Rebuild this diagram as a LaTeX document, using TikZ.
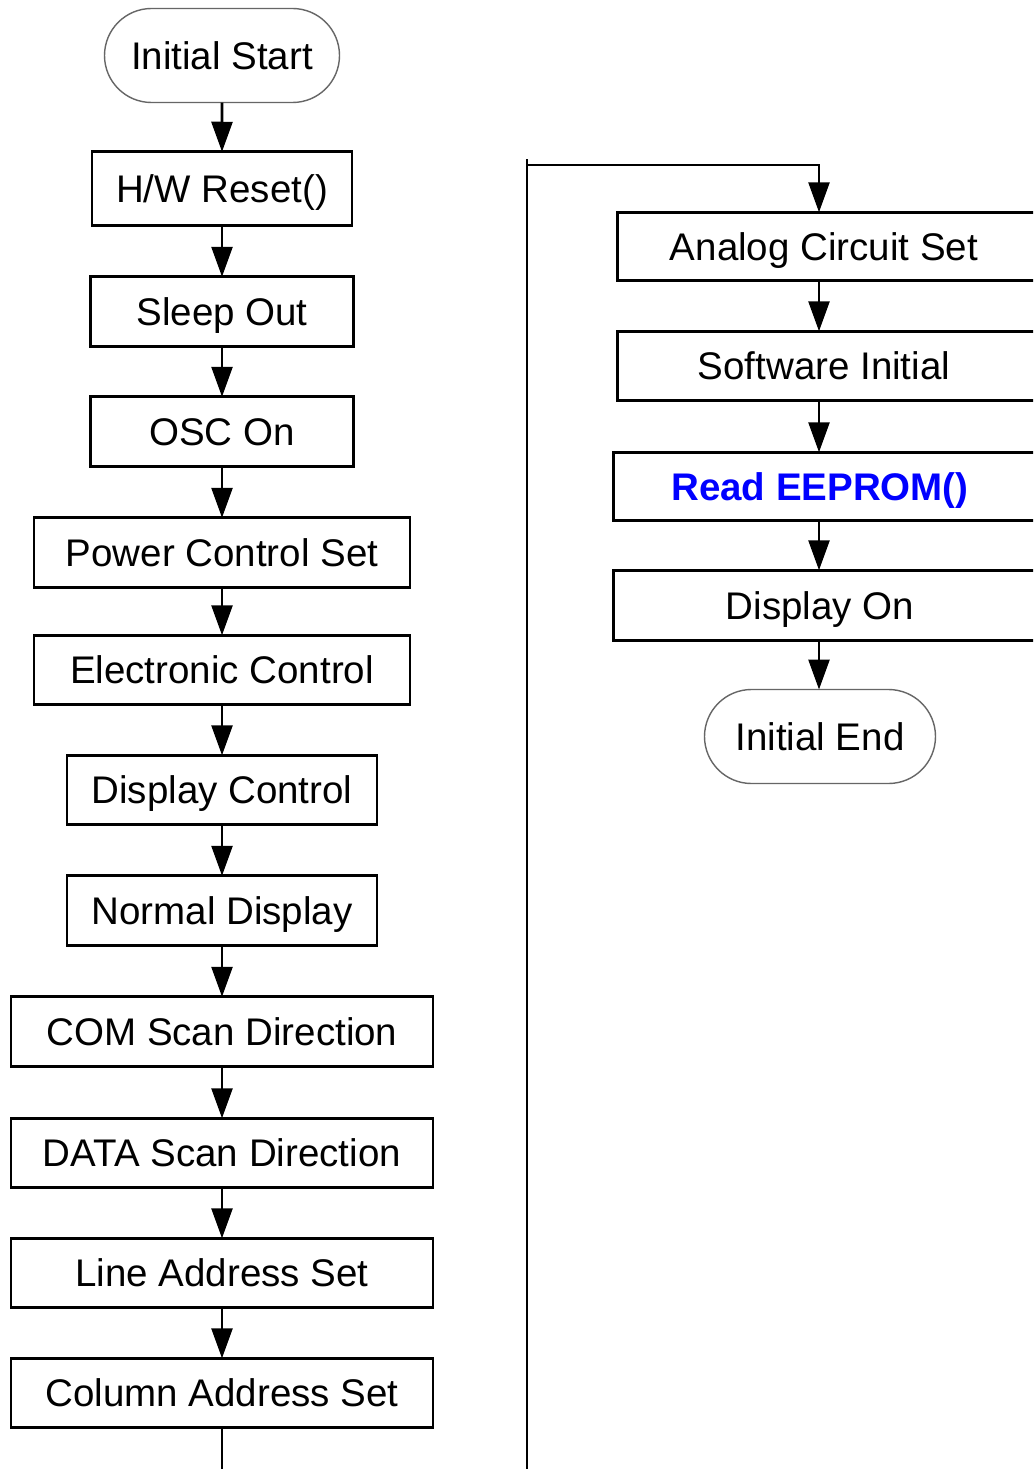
\documentclass[tikz,border=0pt]{standalone}
\usepackage{fontspec}
\setmainfont{Liberation Sans}
\usetikzlibrary{arrows.meta,shapes.misc}
\definecolor{eepblue}{RGB}{0,0,255}
\begin{document}
\begin{tikzpicture}[x=1pt,y=-1pt,
  every node/.style={font=\fontsize{38.5}{40}\selectfont, inner sep=0pt, outer sep=0pt,
    text height=27.6pt, text depth=0pt},
  procbox/.style={draw=black, line width=2.8pt, rectangle, minimum height=#1},
  procbox/.default=69.5,
  term/.style={draw=black!60, line width=1.4pt, rounded rectangle, minimum height=94, minimum width=235},
  arr/.style={draw=black, line width=2.6pt, -{Triangle[width=21pt,length=30pt]}},
  plainline/.style={draw=black, line width=2.6pt}]
\useasboundingbox (0,0) rectangle (1033,1469);
\clip (0,0) rectangle (1033,1469);
\fill[white] (0,0) rectangle (1033,1469);
% left column
\node[term] (start) at (222,55.5) {Initial Start};
\node[procbox=73.5, minimum width=260] (hw) at (222,188.5) {H/W Reset()};
\node[procbox, minimum width=263] (sleep) at (222,311.5) {Sleep Out};
\node[procbox, minimum width=263] (osc) at (222,431.5) {OSC On};
\node[procbox, minimum width=376] (pwr) at (222,552.5) {Power Control Set};
\node[procbox, minimum width=376] (elec) at (222,670) {Electronic Control};
\node[procbox, minimum width=310] (dctl) at (222,790) {Display Control};
\node[procbox, minimum width=310] (norm) at (222,910.5) {Normal Display};
\node[procbox, minimum width=422] (com) at (222,1031.5) {COM Scan Direction};
\node[procbox, minimum width=422] (data) at (222,1153) {DATA Scan Direction};
\node[procbox, minimum width=422] (line) at (222,1273) {Line Address Set};
\node[procbox, minimum width=422] (col) at (222,1393) {Column Address Set};
\coordinate (bot1) at (222,1475);
% right column
\coordinate (rc) at (819,0);
\coordinate (bot2) at (527,1475);
\node[procbox=68.5, minimum width=421.5] (ana) at (828,246.5) {Analog Circuit Set\hspace*{8pt}};
\node[procbox=69.5, minimum width=421.5] (sw) at (828,366) {Software Initial\hspace*{8pt}};
\node[procbox=68.5, minimum width=425.5, text=eepblue, font=\fontsize{38.5}{40}\selectfont\bfseries] (eep) at (826,486.5) {Read EEPROM()\hspace*{12pt}};
\node[procbox=70.5, minimum width=425.5] (don) at (826,605.5) {Display On\hspace*{12pt}};
\node[term, minimum width=231] (fin) at (820,736.5) {Initial End};
% connectors left
\draw[arr] (start) -- (hw);
\draw[arr] (hw) -- (sleep);
\draw[arr] (sleep) -- (osc);
\draw[arr] (osc) -- (pwr);
\draw[arr] (pwr) -- (elec);
\draw[arr] (elec) -- (dctl);
\draw[arr] (dctl) -- (norm);
\draw[arr] (norm) -- (com);
\draw[arr] (com) -- (data);
\draw[arr] (data) -- (line);
\draw[arr] (line) -- (col);
\draw[plainline] (col.south) -- (bot1);
% connectors right
\coordinate (topleft) at (527,165);
\draw[plainline] (bot2) -- (527,159);
\draw[arr] (topleft) -| (ana.north -| rc);
\draw[arr] (ana.south -| rc) -- (sw.north -| rc);
\draw[arr] (sw.south -| rc) -- (eep.north -| rc);
\draw[arr] (eep.south -| rc) -- (don.north -| rc);
\draw[arr] (don.south -| rc) -- (fin.north -| rc);
\end{tikzpicture}
\end{document}
